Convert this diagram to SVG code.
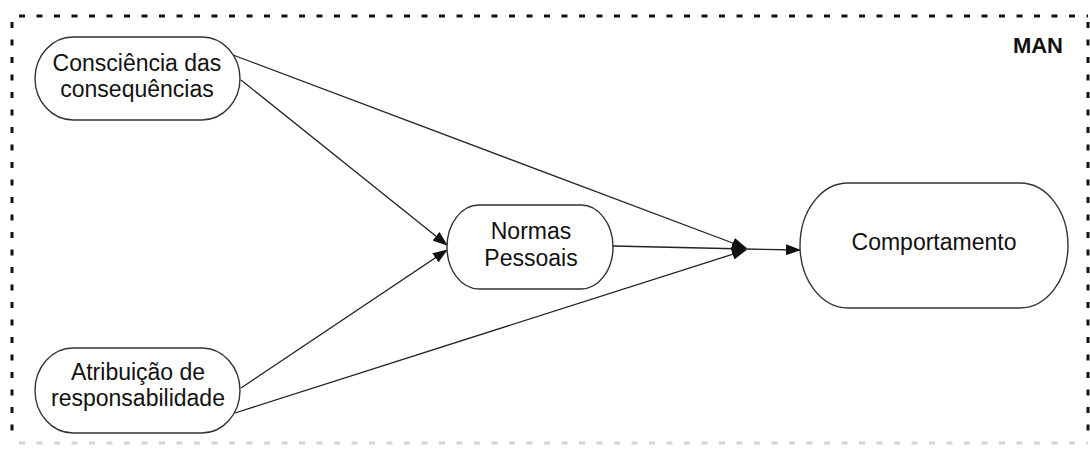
<svg xmlns="http://www.w3.org/2000/svg" width="1090" height="450" viewBox="0 0 1090 450">
  <defs>
    <style>
      .node { fill: #ffffff; stroke: #333333; stroke-width: 1.4; }
      .label { font-family: "Liberation Sans", Arial, sans-serif; font-size: 23px; fill: #111111; text-anchor: middle; }
      .title { font-family: "Liberation Sans", Arial, sans-serif; font-size: 22px; font-weight: bold; fill: #111111; text-anchor: end; }
      .edge { fill: none; stroke: #222222; stroke-width: 1.3; marker-end: url(#arrow); }
      .frame { fill: none; stroke: #111111; stroke-width: 3; stroke-dasharray: 6 11.5; }
      .frame-bottom { fill: none; stroke: #d4d4d4; stroke-width: 3; stroke-dasharray: 6 11.5; }
    </style>
    <marker id="arrow" viewBox="0 0 15 11" refX="14" refY="5.5" markerWidth="15" markerHeight="11" markerUnits="userSpaceOnUse" orient="auto">
      <path d="M0,0 L15,5.5 L0,11 Z" fill="#111111"/>
    </marker>
  </defs>

  <rect width="1090" height="450" fill="#ffffff"/>

  <!-- dashed boundary of the model -->
  <g id="frame">
    <path class="frame" d="M19,16 H1088"/>
    <path class="frame" d="M12,22 V440"/>
    <path class="frame" d="M1088,22 V440"/>
    <path class="frame-bottom" d="M19,443 H1088"/>
    <text class="title" x="1063" y="53">MAN</text>
  </g>

  <!-- connectors -->
  <g id="connectors">
    <line class="edge" x1="233" y1="55" x2="746" y2="248"/>
    <line class="edge" x1="241" y1="80" x2="447" y2="245"/>
    <line class="edge" x1="241" y1="388" x2="447" y2="250"/>
    <line class="edge" x1="235" y1="413" x2="746" y2="250"/>
    <line class="edge" x1="613" y1="246" x2="746" y2="249"/>
    <line class="edge" x1="745" y1="249" x2="800" y2="250"/>
  </g>

  <g id="node-consciencia">
    <rect class="node" x="35" y="37" width="205" height="83" rx="38" ry="41.5"/>
    <text class="label" x="137" y="71">Consciência das</text>
    <text class="label" x="137" y="97">consequências</text>
  </g>

  <g id="node-atribuicao">
    <rect class="node" x="35" y="348" width="205" height="85" rx="38" ry="42.5"/>
    <text class="label" x="138" y="380">Atribuição de</text>
    <text class="label" x="138" y="406">responsabilidade</text>
  </g>

  <g id="node-normas">
    <rect class="node" x="447" y="205" width="166" height="84" rx="32" ry="42"/>
    <text class="label" x="531" y="239">Normas</text>
    <text class="label" x="531" y="266">Pessoais</text>
  </g>

  <g id="node-comportamento">
    <rect class="node" x="800" y="183" width="268" height="125" rx="48" ry="62.5"/>
    <text class="label" x="934" y="250">Comportamento</text>
  </g>
</svg>
